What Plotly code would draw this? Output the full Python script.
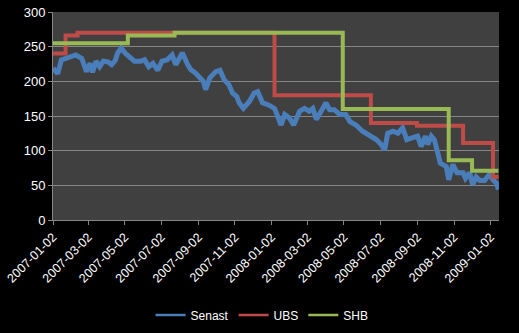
import plotly.graph_objects as go

# Senast (daily close)
senast_dates = [
    "2007-01-02", "2007-01-10", "2007-01-16", "2007-01-30", "2007-02-09", "2007-02-19",
    "2007-02-27", "2007-03-05", "2007-03-09", "2007-03-15", "2007-03-21", "2007-03-27",
    "2007-04-04", "2007-04-10", "2007-04-16", "2007-04-20", "2007-04-26", "2007-05-02",
    "2007-05-10", "2007-05-18", "2007-05-28", "2007-06-04", "2007-06-11", "2007-06-18",
    "2007-06-26", "2007-07-03", "2007-07-12", "2007-07-20", "2007-07-26", "2007-08-06",
    "2007-08-15", "2007-08-20", "2007-08-28", "2007-09-04", "2007-09-10", "2007-09-14",
    "2007-09-21", "2007-10-01", "2007-10-08", "2007-10-15", "2007-10-23", "2007-10-29",
    "2007-11-05", "2007-11-09", "2007-11-16", "2007-11-26", "2007-12-04", "2007-12-10",
    "2007-12-18", "2007-12-28", "2008-01-07", "2008-01-18", "2008-01-24", "2008-02-01",
    "2008-02-08", "2008-02-18", "2008-02-26", "2008-03-05", "2008-03-11", "2008-03-17",
    "2008-03-25", "2008-04-02", "2008-04-08", "2008-04-16", "2008-04-25", "2008-05-05",
    "2008-05-12", "2008-05-22", "2008-06-02", "2008-06-13", "2008-06-25", "2008-07-03",
    "2008-07-09", "2008-07-14", "2008-07-23", "2008-07-31", "2008-08-08", "2008-08-15",
    "2008-08-25", "2008-09-02", "2008-09-08", "2008-09-15", "2008-09-19", "2008-09-25",
    "2008-09-30", "2008-10-06", "2008-10-10", "2008-10-20", "2008-10-24", "2008-10-31",
    "2008-11-07", "2008-11-17", "2008-11-21", "2008-11-28", "2008-12-03", "2008-12-09",
    "2008-12-15", "2008-12-23", "2008-12-31", "2009-01-06", "2009-01-12", "2009-01-15",
]
senast_values = [
    219, 211, 231, 236, 238, 233,
    214, 226, 213, 229, 221, 229,
    228, 224, 230, 241, 248, 241,
    234, 229, 229, 231, 221, 226,
    216, 229, 231, 238, 224, 241,
    224, 217, 212, 205, 200, 188,
    205, 214, 216, 202, 195, 183,
    178, 169, 161, 171, 183, 185,
    169, 166, 161, 137, 152, 147,
    137, 157, 161, 157, 161, 145,
    157, 169, 159, 159, 152, 152,
    142, 137, 128, 123, 116, 109,
    101, 125, 128, 125, 133, 116,
    118, 121, 106, 121, 109, 121,
    116, 92, 82, 77, 58, 80,
    68, 68, 60, 68, 51, 62,
    57, 57, 66, 58, 53, 44,
]

# UBS target price (step series)
ubs_dates = ["2007-01-02", "2007-01-23", "2007-02-12", "2008-01-07", "2008-06-16",
             "2008-09-01", "2008-11-17", "2009-01-06", "2009-01-15"]
ubs_values = [240, 266, 270, 180, 140, 136, 111, 62, 62]

# SHB target price (step series)
shb_dates = ["2007-01-02", "2007-05-07", "2007-07-24", "2008-04-30", "2008-10-24",
             "2008-12-02", "2009-01-15"]
shb_values = [255, 266, 270, 160, 86, 71, 71]

series_names = ["Senast", "UBS", "SHB"]
series_colors = ["#4A7EBB", "#BE4B48", "#98B954"]

fig = go.Figure()
fig.add_trace(go.Scatter(x=senast_dates, y=senast_values, name=series_names[0], mode="lines",
                         line=dict(color=series_colors[0], width=5), showlegend=False))
fig.add_trace(go.Scatter(x=ubs_dates, y=ubs_values, name=series_names[1], mode="lines",
                         line=dict(color=series_colors[1], width=4, shape="hv"), showlegend=False))
fig.add_trace(go.Scatter(x=shb_dates, y=shb_values, name=series_names[2], mode="lines",
                         line=dict(color=series_colors[2], width=4, shape="hv"), showlegend=False))
# thin legend keys, as in the original
for n, c in zip(series_names, series_colors):
    fig.add_trace(go.Scatter(x=[None], y=[None], name=n, mode="lines",
                             line=dict(color=c, width=2.5), showlegend=True))

fam = "Liberation Sans, Arial, sans-serif"
fig.update_layout(
    width=519, height=333,
    margin=dict(l=53, r=20, t=12, b=113, autoexpand=False),
    paper_bgcolor="#000000",
    plot_bgcolor="#404040",
    font=dict(family=fam, size=13, color="#FFFFFF"),
    showlegend=True,
    legend=dict(orientation="h", x=0.505, xref="container", xanchor="center",
                y=0.054, yref="container", yanchor="middle",
                font=dict(family=fam, size=12, color="#FFFFFF"),
                bgcolor="rgba(0,0,0,0)", itemwidth=30, tracegroupgap=0),
    xaxis=dict(type="date", range=["2007-01-02", "2009-01-16"],
               tick0="2007-01-02", dtick="M2", tickformat="%Y-%m-%d", tickangle=-45,
               showgrid=False, showline=True, linecolor="#868686", linewidth=1,
               ticks="outside", ticklen=4, tickcolor="#868686", zeroline=False,
               tickfont=dict(family=fam, size=12.5, color="#FFFFFF")),
    yaxis=dict(range=[0, 300], dtick=50, showgrid=True, gridcolor="#868686", gridwidth=1,
               showline=True, linecolor="#868686", linewidth=1, ticks="outside", ticklen=4,
               tickcolor="#868686", zeroline=False,
               tickfont=dict(family=fam, size=13, color="#FFFFFF")),
)

fig.write_html("out.html")
